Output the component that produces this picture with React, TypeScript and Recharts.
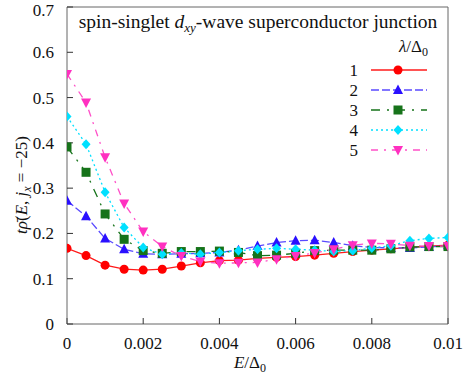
import React from "react";
import { LineChart, Line, XAxis, YAxis } from "recharts";

// E / Delta_0
const energy = [
  0, 0.0005, 0.001, 0.0015, 0.002, 0.0025, 0.003, 0.0035, 0.004, 0.0045, 0.005,
  0.0055, 0.006, 0.0065, 0.007, 0.0075, 0.008, 0.0085, 0.009, 0.0095, 0.01,
];

// lambda / Delta_0 = 1..5
const rho1 = [0.167, 0.151, 0.130, 0.121, 0.119, 0.121, 0.128, 0.135, 0.140, 0.141, 0.145, 0.147, 0.149, 0.152, 0.156, 0.160, 0.163, 0.166, 0.169, 0.172, 0.174];
const rho2 = [0.272, 0.238, 0.189, 0.165, 0.155, 0.154, 0.155, 0.156, 0.158, 0.163, 0.172, 0.180, 0.184, 0.185, 0.180, 0.173, 0.169, 0.168, 0.168, 0.170, 0.174];
const rho3 = [0.391, 0.335, 0.243, 0.187, 0.162, 0.156, 0.160, 0.160, 0.161, 0.158, 0.151, 0.152, 0.156, 0.162, 0.163, 0.163, 0.163, 0.166, 0.170, 0.171, 0.171];
const rho4 = [0.458, 0.397, 0.291, 0.213, 0.169, 0.154, 0.157, 0.154, 0.158, 0.162, 0.165, 0.167, 0.165, 0.163, 0.160, 0.162, 0.168, 0.173, 0.184, 0.189, 0.191];
const rho5 = [0.552, 0.489, 0.368, 0.266, 0.204, 0.171, 0.150, 0.138, 0.134, 0.135, 0.136, 0.143, 0.150, 0.157, 0.165, 0.174, 0.178, 0.177, 0.173, 0.172, 0.172];

const legendLabels = ["1", "2", "3", "4", "5"];
const xTicks = [0, 0.002, 0.004, 0.006, 0.008, 0.01];
const yTicks = [0, 0.1, 0.2, 0.3, 0.4, 0.5, 0.6, 0.7];

const data = energy.map((x, i) => ({
  x,
  s1: rho1[i],
  s2: rho2[i],
  s3: rho3[i],
  s4: rho4[i],
  s5: rho5[i],
}));

const FONT = "Liberation Serif, Times New Roman, DejaVu Serif, serif";
const AXIS = "#666";

type Shape = "circle" | "up" | "square" | "diamond" | "down";

const styles: { key: string; color: string; line: string; dash?: string; shape: Shape }[] = [
  { key: "s1", color: "#ff0000", line: "#ff1a1a", shape: "circle" },
  { key: "s2", color: "#2a10ff", line: "#5a4aff", dash: "8 3", shape: "up" },
  { key: "s3", color: "#16731a", line: "#16731a", dash: "9 7 2 7", shape: "square" },
  { key: "s4", color: "#00e0ff", line: "#00e0ff", dash: "2 3", shape: "diamond" },
  { key: "s5", color: "#ff30c0", line: "#ff50c8", dash: "7 6 2 6", shape: "down" },
];

const marker = (shape: Shape, color: string, cx: number, cy: number, key?: any) => {
  switch (shape) {
    case "circle":
      return <circle key={key} cx={cx} cy={cy} r={4.5} fill={color} />;
    case "up":
      return <polygon key={key} points={`${cx},${cy - 5.5} ${cx - 5},${cy + 4} ${cx + 5},${cy + 4}`} fill={color} />;
    case "down":
      return <polygon key={key} points={`${cx},${cy + 5.5} ${cx - 5},${cy - 4} ${cx + 5},${cy - 4}`} fill={color} />;
    case "square":
      return <rect key={key} x={cx - 4.5} y={cy - 4.5} width={9} height={9} fill={color} />;
    default:
      return <polygon key={key} points={`${cx},${cy - 5} ${cx + 4.5},${cy} ${cx},${cy + 5} ${cx - 4.5},${cy}`} fill={color} />;
  }
};

const makeDot = (shape: Shape, color: string) => (props: any) => {
  const { cx, cy, index } = props;
  if (cx == null || cy == null) return <g key={index} />;
  return marker(shape, color, cx, cy, index);
};

const fmt = (v: number) => String(v);
const tickStyle = { fill: "#111", fontSize: 17, fontFamily: FONT };

export default function App() {
  return (
    <div style={{ position: "absolute", left: 0, top: 0, width: 463, height: 386, background: "#fff", fontFamily: FONT }}>
      <LineChart
        width={463}
        height={386}
        data={data}
        margin={{ top: 6, right: 14, bottom: 0, left: 0 }}
      >
        <XAxis
          dataKey="x"
          type="number"
          domain={[0, 0.01]}
          ticks={xTicks}
          tickFormatter={fmt}
          height={62}
          tickSize={-6}
          tickMargin={19}
          stroke={AXIS}
          tick={tickStyle}
          tickLine={{ stroke: "#333" }}
          allowDataOverflow
        />
        <XAxis
          xAxisId="top"
          orientation="top"
          dataKey="x"
          type="number"
          domain={[0, 0.01]}
          ticks={xTicks}
          height={1}
          tickSize={-6}
          tick={false}
          stroke={AXIS}
          tickLine={{ stroke: "#333" }}
        />
        <YAxis
          type="number"
          domain={[0, 0.7]}
          ticks={yTicks}
          tickFormatter={fmt}
          width={67}
          tickSize={-6}
          tickMargin={19}
          stroke={AXIS}
          tick={tickStyle}
          tickLine={{ stroke: "#333" }}
          allowDataOverflow
        />
        <YAxis
          yAxisId="right"
          orientation="right"
          type="number"
          domain={[0, 0.7]}
          ticks={yTicks}
          width={1}
          tickSize={-6}
          tick={false}
          stroke={AXIS}
          tickLine={{ stroke: "#333" }}
        />
        {styles.map((s) => (
          <Line
            key={s.key}
            dataKey={s.key}
            type="linear"
            stroke={s.line}
            strokeWidth={1.3}
            strokeDasharray={s.dash}
            dot={makeDot(s.shape, s.color)}
            activeDot={false}
            isAnimationActive={false}
          />
        ))}
      </LineChart>
      <svg
        width={463}
        height={386}
        style={{ position: "absolute", left: 0, top: 0, pointerEvents: "none" }}
      >
        <g fontFamily={FONT} fill="#111">
          <text x={258} y={28} fontSize={19.5} textAnchor="middle">
            spin-singlet <tspan fontStyle="italic">d</tspan>
            <tspan fontStyle="italic" fontSize={13} dy={4}>xy</tspan>
            <tspan dy={-4}>-wave superconductor junction</tspan>
          </text>
          <text x={428} y={52} fontSize={17} textAnchor="end">
            <tspan fontStyle="italic">λ</tspan>/Δ<tspan fontSize={12} dy={4}>0</tspan>
          </text>
          {styles.map((s, i) => {
            const y = 70 + i * 20;
            return (
              <g key={s.key}>
                <text x={358} y={y + 6} fontSize={17} textAnchor="end">
                  {legendLabels[i]}
                </text>
                <line x1={371} x2={427} y1={y} y2={y} stroke={s.line} strokeWidth={1.3} strokeDasharray={s.dash} />
                {marker(s.shape, s.color, 398, y)}
              </g>
            );
          })}
          <text x={250} y={368} fontSize={17} textAnchor="middle">
            <tspan fontStyle="italic">E</tspan>/Δ<tspan fontSize={12} dy={4}>0</tspan>
          </text>
          <text transform="translate(27,185) rotate(-90)" fontSize={17} textAnchor="middle">
            <tspan fontStyle="italic">tρ̄</tspan>(<tspan fontStyle="italic">E</tspan>,{" "}
            <tspan fontStyle="italic">j</tspan>
            <tspan fontStyle="italic" fontSize={12} dy={4}>x</tspan>
            <tspan dy={-4}> = −25)</tspan>
          </text>
        </g>
      </svg>
    </div>
  );
}
